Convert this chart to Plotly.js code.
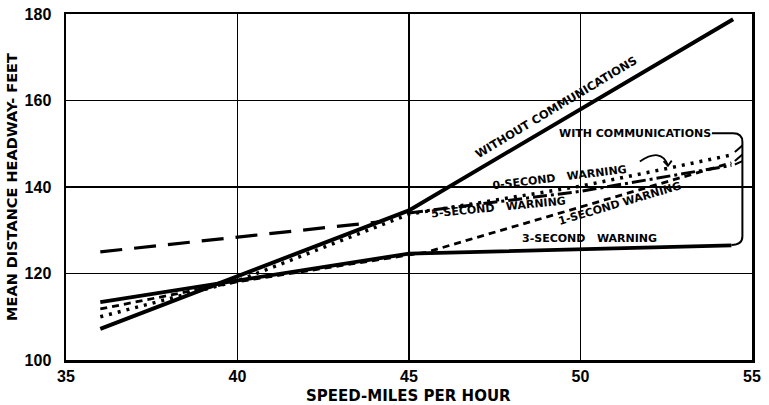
<!DOCTYPE html>
<html>
<head>
<meta charset="utf-8">
<script src="https://cdn.plot.ly/plotly-3.0.1.min.js"></script>
<style>html,body{margin:0;padding:0;background:#fff;}#chart{width:769px;height:405px;}</style>
</head>
<body>
<div id="chart"></div>
<script>
// ---- data ----
const speedWithout = [36, 45, 54.45];
const headWithout  = [107.2, 134.6, 178.8];

const speed3 = [36, 45, 54.4];
const head3  = [113.4, 124.6, 126.5];

const speed1 = [36, 40, 45.5, 54.4];
const head1  = [111.8, 118.1, 124.9, 145.6];

const speed0 = [36, 40, 45, 50, 52.6, 54.45];
const head0  = [110.0, 118.3, 133.7, 140.2, 144.4, 147.5];

const speed5a = [36, 44.2];
const head5a  = [125.0, 132.0];
const speed5b = [45, 50, 54.4];
const head5b  = [134.0, 139.0, 145.0];

const xTicks = [35, 40, 45, 50, 55];
const yTicks = [100, 120, 140, 160, 180];

const labelWithout = "WITHOUT COMMUNICATIONS";
const labelWith = "WITH COMMUNICATIONS";
const label0 = "0-SECOND &nbsp; WARNING";
const label5 = "5-SECOND &nbsp; WARNING";
const label1 = "1-SECOND WARNING";
const label3 = "3-SECOND &nbsp; WARNING";
const xTitle = "SPEED-MILES PER HOUR";
const yTitle = "MEAN DISTANCE HEADWAY- FEET";

const F = "Liberation Sans, Arial, sans-serif";
const D = "DejaVu Sans, sans-serif";

const traces = [
  {x: speed5a, y: head5a, mode: 'lines', line: {color: '#000', width: 3.2, dash: '22px,12px'}, name: '5-second a'},
  {x: speed5b, y: head5b, mode: 'lines', line: {color: '#000', width: 3, dash: '14px,4px,3px,4px'}, name: '5-second b'},
  {x: speed1, y: head1, mode: 'lines', line: {color: '#000', width: 2.8, dash: '7px,5px'}, name: '1-second'},
  {x: speed0, y: head0, mode: 'lines', line: {color: '#000', width: 3.5, dash: '3px,6px'}, name: '0-second'},
  {x: speed3, y: head3, mode: 'lines', line: {color: '#000', width: 3.8}, name: '3-second'},
  {x: speedWithout, y: headWithout, mode: 'lines', line: {color: '#000', width: 4}, name: 'without'}
];

function ann(text, x, y, angle, size) {
  return {text: text, x: x, y: y, xref: 'x', yref: 'y', showarrow: false, textangle: angle,
          font: {family: D, size: size, color: '#000', weight: 'bold'}};
}

const annotations = [
  ann(labelWithout, 49.3, 158.5, -31, 11.5),
  ann(labelWith, 51.6, 152.3, 0, 11),
  ann(label0, 49.4, 142.2, -7, 11),
  ann(label5, 47.6, 135.2, -5.5, 11),
  ann(label1, 51.15, 136.2, -16.5, 11),
  ann(label3, 50.25, 128.0, 0, 11),
  {text: xTitle, xref: 'paper', yref: 'paper', x: 0.499, y: -0.104, xanchor: 'center', yanchor: 'middle',
   showarrow: false, font: {family: D, size: 15, color: '#000', weight: 'bold'}}
];

const shapes = [
  // bracket grouping "with communications"
  {type: 'path', xref: 'x', yref: 'y',
   path: 'M 53.83,152.4 L 54.45,152.4 Q 54.72,152.4 54.72,150.4 L 54.72,128.6 Q 54.72,126.6 54.4,126.6',
   line: {color: '#000', width: 2}},
  // small ticks from the bracket to line ends
  {type: 'path', xref: 'x', yref: 'y', path: 'M 54.72,149.6 L 54.5,148.1', line: {color: '#000', width: 2}},
  {type: 'path', xref: 'x', yref: 'y', path: 'M 54.72,147.5 L 54.5,146.0', line: {color: '#000', width: 2}},
  {type: 'path', xref: 'x', yref: 'y', path: 'M 54.72,146.0 L 54.5,145.2', line: {color: '#000', width: 2}},
  // curved arrow from 0-second label to dotted line
  {type: 'path', xref: 'x', yref: 'y',
   path: 'M 51.73,145.9 Q 52.35,149.2 52.55,145.0', line: {color: '#000', width: 1.8}},
  {type: 'path', xref: 'x', yref: 'y',
   path: 'M 52.42,146.0 L 52.55,144.9 L 52.66,146.1', line: {color: '#000', width: 1.8}}
];

const axisCommon = {
  showgrid: true, gridcolor: '#000', gridwidth: 1.5,
  showline: true, linecolor: '#000', linewidth: 2.5, mirror: true,
  zeroline: false, ticks: '', fixedrange: true
};

const layout = {
  width: 769, height: 405,
  margin: {l: 66, r: 17, t: 14, b: 45},
  paper_bgcolor: '#fff', plot_bgcolor: '#fff',
  showlegend: false,
  font: {family: F, color: '#000'},
  xaxis: Object.assign({}, axisCommon, {
    range: [35, 55], tickvals: xTicks, ticktext: xTicks.map(String),
    tickfont: {family: F, size: 16, weight: 'bold'}, ticklabelstandoff: 0
  }),
  yaxis: Object.assign({}, axisCommon, {
    range: [100, 180], tickvals: yTicks, ticktext: yTicks.map(String),
    tickfont: {family: F, size: 16, weight: 'bold'}, ticklabelstandoff: 9,
    title: {text: yTitle, font: {family: D, size: 14.5, weight: 'bold'}, standoff: 4}
  }),
  annotations: annotations,
  shapes: shapes
};

Plotly.newPlot('chart', traces, layout, {displayModeBar: false, staticPlot: true});
</script>
</body>
</html>
